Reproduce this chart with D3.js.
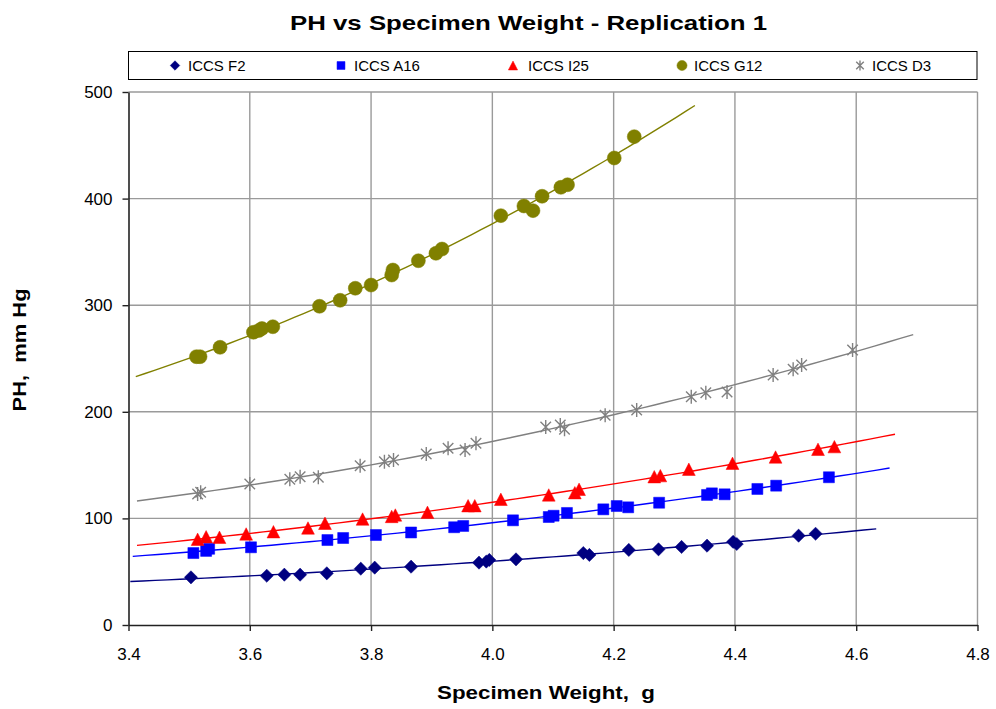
<!DOCTYPE html>
<html>
<head>
<meta charset="utf-8">
<script src="https://cdn.jsdelivr.net/npm/d3@7"></script>
<style>
  html, body { margin: 0; padding: 0; background: #ffffff; }
  svg { display: block; font-family: "Liberation Sans", Arial, sans-serif; }
  .pre { white-space: pre; }
</style>
</head>
<body>
<script>
// ---------------- DATA ----------------
const seriesNames = ["ICCS F2", "ICCS A16", "ICCS I25", "ICCS G12", "ICCS D3"];

const f2X = [3.503,3.628,3.657,3.683,3.727,3.783,3.806,3.866,3.978,3.990,3.995,4.039,4.150,4.160,4.225,4.274,4.312,4.354,4.397,4.403,4.505,4.533];
const f2Y = [44.7,46.2,47.2,47.2,48.5,52.8,53.8,54.7,58.5,59.5,61.0,61.6,67.5,65.7,70.4,71.0,73.2,74.4,78.0,76.0,83.8,85.6];

const a16X = [3.507,3.528,3.533,3.602,3.728,3.754,3.808,3.866,3.937,3.952,4.034,4.093,4.101,4.123,4.183,4.205,4.224,4.275,4.354,4.362,4.383,4.437,4.468,4.555];
const a16Y = [67.5,69.5,71.5,72.9,79.7,81.6,84.4,86.8,91.7,92.9,98.2,101.3,102.5,105.1,108.5,111.6,110.4,114.7,122.0,123.5,122.6,127.6,130.7,138.6];

const i25X = [3.514,3.528,3.550,3.594,3.639,3.696,3.724,3.786,3.834,3.840,3.893,3.960,3.971,4.014,4.093,4.136,4.143,4.267,4.277,4.324,4.396,4.467,4.537,4.564];
const i25Y = [80.4,82.8,82.3,85.4,87.5,91.0,95.4,99.4,101.8,103.2,105.7,111.9,111.9,117.9,122.0,124.1,127.3,139.1,140.1,146.1,151.7,157.6,164.8,167.3];

const g12X = [3.512,3.518,3.551,3.606,3.615,3.620,3.638,3.715,3.749,3.774,3.800,3.834,3.836,3.878,3.907,3.917,4.014,4.052,4.067,4.082,4.113,4.124,4.201,4.234];
const g12Y = [251.7,251.7,260.5,274.6,276.3,278.1,279.8,299.0,304.6,315.9,318.9,328.3,333.0,341.7,348.7,352.7,384.0,393.1,388.7,402.2,410.6,413.0,438.1,458.1];

const d3X = [3.514,3.519,3.600,3.666,3.683,3.713,3.782,3.822,3.837,3.891,3.927,3.955,3.973,4.088,4.112,4.119,4.186,4.238,4.328,4.352,4.387,4.463,4.496,4.510,4.594];
const d3Y = [123.0,124.5,132.3,136.7,139.1,138.6,149.4,153.2,154.8,160.4,165.8,164.2,170.5,185.7,187.6,183.6,196.7,201.7,214.2,217.9,218.6,234.5,239.9,243.9,258.0];

const xTicks = [3.4, 3.6, 3.8, 4.0, 4.2, 4.4, 4.6, 4.8];
const yTicks = [0, 100, 200, 300, 400, 500];

const titleText = "PH vs Specimen Weight - Replication 1";
const xTitle = "Specimen Weight,  g";
const yTitle = "PH,  mm Hg";

// ---------------- STYLE / LAYOUT ----------------
const colors = ["#000080", "#0000FF", "#FF0000", "#808000", "#808080"];
const shapes = ["diamond", "square", "triangle", "circle", "star"];
const trendExtend = 0.1;   // trendline forecast forward/backward

const W = 996, H = 709;
const plot = { left: 128.5, right: 977.5, top: 92, bottom: 625 };

const series = [
  { xs: f2X, ys: f2Y }, { xs: a16X, ys: a16Y }, { xs: i25X, ys: i25Y },
  { xs: g12X, ys: g12Y }, { xs: d3X, ys: d3Y }
].map((s, i) => ({ name: seriesNames[i], color: colors[i], shape: shapes[i],
  pts: s.xs.map((x, j) => [x, s.ys[j]]) }));

const svg = d3.select("body").append("svg").attr("width", W).attr("height", H);

const x = d3.scaleLinear().domain([3.4, 4.8]).range([plot.left, plot.right]);
const y = d3.scaleLinear().domain([0, 500]).range([plot.bottom, plot.top]);

// gridlines
svg.append("g").selectAll("line.v").data(xTicks.slice(1)).join("line")
  .attr("x1", d => x(d)).attr("x2", d => x(d)).attr("y1", plot.top).attr("y2", plot.bottom)
  .attr("stroke", "#9a9a9a").attr("stroke-width", 1.4);
svg.append("g").selectAll("line.h").data(yTicks.slice(1)).join("line")
  .attr("y1", d => y(d)).attr("y2", d => y(d)).attr("x1", plot.left).attr("x2", plot.right)
  .attr("stroke", "#9a9a9a").attr("stroke-width", 1.4);

// quadratic least squares fit (Excel polynomial trendline, order 2)
function polyFit2(pts) {
  const mx = d3.mean(pts, p => p[0]);
  let S = [0,0,0,0,0], T = [0,0,0];
  pts.forEach(([px, py]) => {
    const u = px - mx;
    let p = 1;
    for (let k = 0; k < 5; k++) { S[k] += p; if (k < 3) T[k] += p * py; p *= u; }
  });
  const A = [[S[0],S[1],S[2],T[0]],[S[1],S[2],S[3],T[1]],[S[2],S[3],S[4],T[2]]];
  for (let i = 0; i < 3; i++) {
    let m = i; for (let r = i+1; r < 3; r++) if (Math.abs(A[r][i]) > Math.abs(A[m][i])) m = r;
    [A[i], A[m]] = [A[m], A[i]];
    for (let r = 0; r < 3; r++) if (r !== i) {
      const f = A[r][i] / A[i][i];
      for (let c = i; c < 4; c++) A[r][c] -= f * A[i][c];
    }
  }
  const c = [A[0][3]/A[0][0], A[1][3]/A[1][1], A[2][3]/A[2][2]];
  return v => { const u = v - mx; return c[0] + c[1]*u + c[2]*u*u; };
}

const line = d3.line().x(d => x(d[0])).y(d => y(d[1]));
series.forEach(s => {
  const f = polyFit2(s.pts);
  const [lo, hi] = d3.extent(s.pts, p => p[0]);
  const a = lo - trendExtend, b = hi + trendExtend;
  const samples = d3.range(0, 61).map(k => { const v = a + (b - a) * k / 60; return [v, f(v)]; });
  svg.append("path").datum(samples).attr("d", line)
    .attr("fill", "none").attr("stroke", s.color).attr("stroke-width", 1.4);
});

// marker shapes
function markerPath(shape, k) {
  switch (shape) {
    case "diamond": { const r = 6.6*k; return `M0,${-r}L${r},0L0,${r}L${-r},0Z`; }
    case "square": { const r = 5.5*k; return `M${-r},${-r}H${r}V${r}H${-r}Z`; }
    case "triangle": { const w = 6.4*k, h = 6.2*k; return `M0,${-h}L${w},${h}L${-w},${h}Z`; }
    case "circle": { const r = 7*k; return `M${r},0A${r},${r} 0 1,1 ${-r},0A${r},${r} 0 1,1 ${r},0Z`; }
    case "star": { const r = 7*k, d = r*0.75; return `M0,${-r}V${r}M${-d},${-d}L${d},${d}M${-d},${d}L${d},${-d}`; }
  }
}
function drawMarker(g, shape, color, k) {
  const p = g.append("path").attr("d", markerPath(shape, k));
  if (shape === "star") p.attr("fill", "none").attr("stroke", color).attr("stroke-width", 1.4);
  else p.attr("fill", color).attr("stroke", color).attr("stroke-width", 0.5);
}

series.forEach(s => {
  const g = svg.append("g");
  g.selectAll("g").data(s.pts).join("g")
    .attr("transform", d => `translate(${x(d[0])},${y(d[1])})`)
    .each(function() { drawMarker(d3.select(this), s.shape, s.color, 1); });
});

// axes
const yAxis = d3.axisLeft(y).tickValues(yTicks).tickSize(6).tickSizeOuter(0).tickPadding(10)
  .tickFormat(d3.format("d"));
const xAxis = d3.axisBottom(x).tickValues(xTicks).tickSize(6).tickSizeOuter(0).tickPadding(17)
  .tickFormat(d3.format(".1f"));
const gy = svg.append("g").attr("transform", `translate(${plot.left},0)`).call(yAxis);
const gx = svg.append("g").attr("transform", `translate(0,${plot.bottom})`).call(xAxis);
[gx, gy].forEach(g => {
  g.selectAll("path.domain").attr("stroke", "#222").attr("stroke-width", 1.6);
  g.selectAll(".tick line").attr("stroke", "#222").attr("stroke-width", 1.4);
  g.selectAll(".tick text").attr("fill", "#000").attr("font-size", 17)
    .attr("font-family", "Liberation Sans, Arial, sans-serif");
});

// titles
svg.append("text").attr("x", 528.5).attr("y", 30).attr("text-anchor", "middle")
  .attr("font-size", 21).attr("font-weight", "bold")
  .attr("textLength", 477).attr("lengthAdjust", "spacingAndGlyphs").text(titleText);
svg.append("text").attr("class", "pre").attr("x", 546).attr("y", 699).attr("text-anchor", "middle")
  .attr("font-size", 19).attr("font-weight", "bold")
  .attr("textLength", 218).attr("lengthAdjust", "spacingAndGlyphs").text(xTitle);
svg.append("text").attr("class", "pre").attr("transform", "translate(26,350) rotate(-90)").attr("text-anchor", "middle")
  .attr("font-size", 18).attr("font-weight", "bold")
  .attr("textLength", 123).attr("lengthAdjust", "spacingAndGlyphs").text(yTitle);

// legend
const legendBox = { x: 128.5, y: 51.5, w: 848.5, h: 28 };
const legendMarkerX = [175, 341, 513, 682, 860];
const legendTextX = [188, 354, 528, 694, 872];
const lg = svg.append("g");
lg.append("rect").attr("x", legendBox.x).attr("y", legendBox.y).attr("width", legendBox.w)
  .attr("height", legendBox.h).attr("fill", "#fff").attr("stroke", "#000").attr("stroke-width", 1);
series.forEach((s, i) => {
  const cy = legendBox.y + legendBox.h / 2;
  const m = lg.append("g").attr("transform", `translate(${legendMarkerX[i]},${cy})`);
  drawMarker(m, s.shape, s.color, 0.72);
  lg.append("text").attr("x", legendTextX[i]).attr("y", cy + 5.5)
    .attr("font-size", 15).attr("fill", "#000").text(s.name);
});
</script>
</body>
</html>
